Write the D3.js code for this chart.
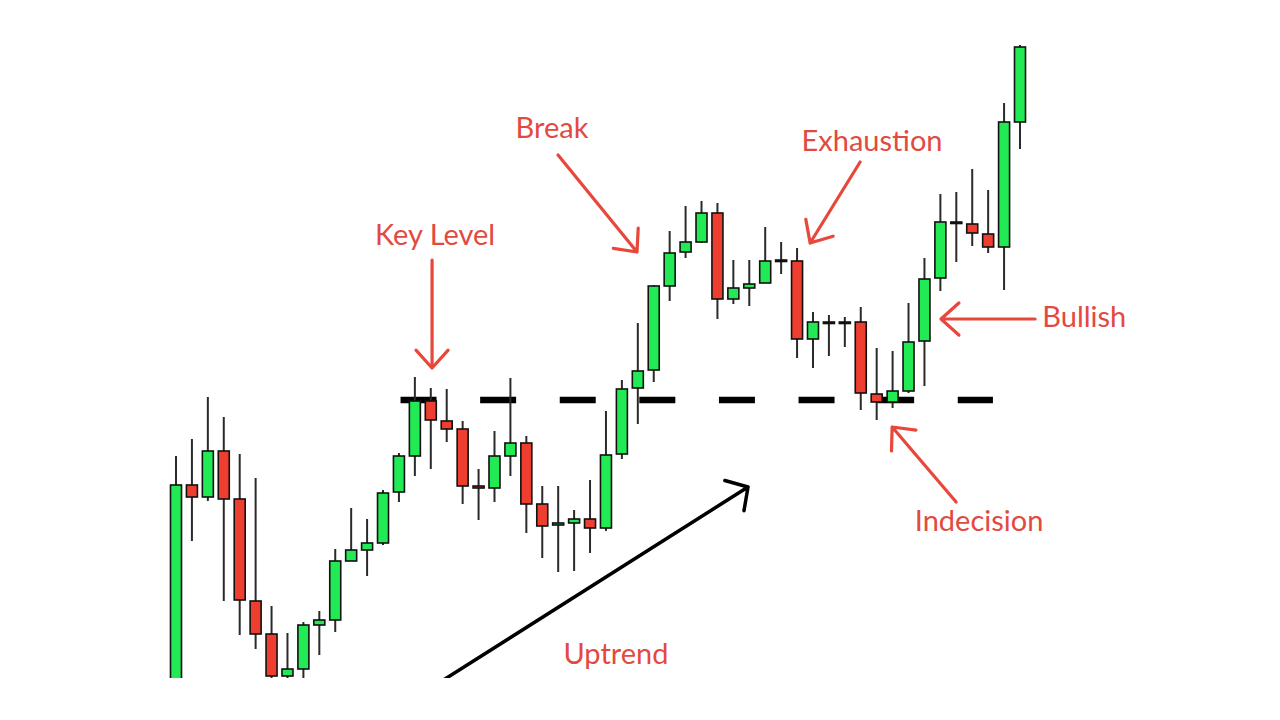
<!DOCTYPE html>
<html>
<head>
<meta charset="utf-8">
<script src="https://cdn.jsdelivr.net/npm/d3@7"></script>
<style>
  html, body { margin: 0; padding: 0; background: #fff; }
  svg { display: block; }
</style>
</head>
<body>
<svg id="chart" width="1280" height="720"></svg>
<script>
// ---- data (price units) ----
const opens  = [10,235,223,269,221,119,86,44,51,95,100,159,170,177,228,264,319,299,291,234,232,264,277,216,195,197,201,192,266,332,350,434,468,478,507,421,432,437,460,459,381,398,398,398,326,318,329,379,442,498,496,486,473,598];
const closes = [235,223,269,221,120,86,44,51,95,100,159,170,177,227,264,319,300,291,234,232,264,277,216,194,197,201,192,265,331,349,434,467,478,507,421,432,436,459,459,381,398,397,397,327,318,329,378,441,498,497,487,473,598,673];
const highs  = [264,281,323,303,266,242,114,87,98,109,171,212,201,230,267,343,332,331,299,251,289,342,284,234,234,210,240,309,340,397,435,489,514,519,517,460,460,493,478,472,408,405,403,413,372,369,417,462,526,528,551,530,617,675];
const lows   = [5,179,219,119,85,71,42,42,42,65,88,159,144,175,218,244,251,278,216,200,218,244,187,162,148,149,167,189,261,296,338,419,462,477,401,416,414,437,446,362,352,364,373,310,300,312,327,334,429,458,474,467,430,571];
const keyLevel = 320;
const keyLevelFrom = 14.1, keyLevelTo = 51.3;   // candle index span of the dashed level

// annotations: positions in (candle index, price)
const labels = [
  {text: "Key Level",  x: 16.27, y: 475, anchor: "middle"},
  {text: "Break",      x: 23.61, y: 582, anchor: "middle"},
  {text: "Exhaustion", x: 43.71, y: 569, anchor: "middle"},
  {text: "Bullish",    x: 54.40, y: 393, anchor: "start"},
  {text: "Indecision", x: 50.43, y: 189, anchor: "middle"},
  {text: "Uptrend",    x: 27.63, y: 56,  anchor: "middle"}
];
const arrows = [
  {x1: 16.08, y1: 460, x2: 16.08, y2: 352, kind: "red"},
  {x1: 23.99, y1: 565, x2: 28.95, y2: 468, kind: "red"},
  {x1: 42.96, y1: 558, x2: 39.82, y2: 477, kind: "red"},
  {x1: 53.95, y1: 401, x2: 48.04, y2: 401, kind: "red"},
  {x1: 48.99, y1: 218, x2: 44.97, y2: 293, kind: "red"},
  {x1: 16.2,  y1: 34,  x2: 35.92, y2: 233, kind: "black"}
];

// ---- scales ----
const W = 1280, H = 720;
const idx = d3.range(opens.length);
const x = d3.scaleLinear().domain([0, opens.length - 1]).range([176, 1020]);
const y = d3.scaleLinear().domain([0, 720]).range([720, 0]);

const GREEN = "#22ea55", RED = "#ee3e30", ANN = "#e8473b";
const svg = d3.select("#chart");

svg.append("defs").append("clipPath").attr("id", "clip")
  .append("rect").attr("x", 0).attr("y", 0).attr("width", W).attr("height", 678);

const g = svg.append("g").attr("clip-path", "url(#clip)");

// key level dashed line
g.append("line")
  .attr("x1", x(keyLevelFrom)).attr("x2", x(keyLevelTo))
  .attr("y1", y(keyLevel)).attr("y2", y(keyLevel))
  .attr("stroke", "#000").attr("stroke-width", 6.5)
  .attr("stroke-dasharray", "36 43.6");

// candles
const bodyW = 11;
const c = g.selectAll("g.candle").data(idx).join("g").attr("class", "candle");
c.append("line")
  .attr("x1", i => x(i)).attr("x2", i => x(i))
  .attr("y1", i => y(highs[i])).attr("y2", i => y(lows[i]))
  .attr("stroke", "#2a2a2a").attr("stroke-width", 2);
c.append("rect")
  .attr("x", i => x(i) - bodyW / 2)
  .attr("width", bodyW)
  .attr("y", i => y(Math.max(opens[i], closes[i])))
  .attr("height", i => Math.max(1.5, Math.abs(y(opens[i]) - y(closes[i]))))
  .attr("fill", i => closes[i] >= opens[i] ? GREEN : RED)
  .attr("stroke", "#111").attr("stroke-width", 1.6);

// arrows
function drawArrow(a) {
  const px1 = x(a.x1), py1 = y(a.y1), px2 = x(a.x2), py2 = y(a.y2);
  const col = a.kind === "black" ? "#000" : ANN;
  const half = (a.kind === "black" ? 48 : 42) * Math.PI / 180;
  const len = 24;
  const ang = Math.atan2(py1 - py2, px1 - px2);
  const path = d3.path();
  path.moveTo(px1, py1); path.lineTo(px2, py2);
  path.moveTo(px2 + len * Math.cos(ang + half), py2 + len * Math.sin(ang + half));
  path.lineTo(px2, py2);
  path.lineTo(px2 + len * Math.cos(ang - half), py2 + len * Math.sin(ang - half));
  g.append("path").attr("d", path.toString())
    .attr("fill", "none").attr("stroke", col)
    .attr("stroke-width", a.kind === "black" ? 3.5 : 3.2)
    .attr("stroke-linecap", "round").attr("stroke-linejoin", "round");
}
arrows.forEach(drawArrow);

// labels
svg.selectAll("text.lbl").data(labels).join("text").attr("class", "lbl")
  .attr("x", d => x(d.x)).attr("y", d => y(d.y))
  .attr("text-anchor", d => d.anchor)
  .attr("font-family", "Lato, 'Open Sans', sans-serif")
  .attr("font-size", 29)
  .attr("fill", "#e24a3f")
  .text(d => d.text);
</script>
</body>
</html>
